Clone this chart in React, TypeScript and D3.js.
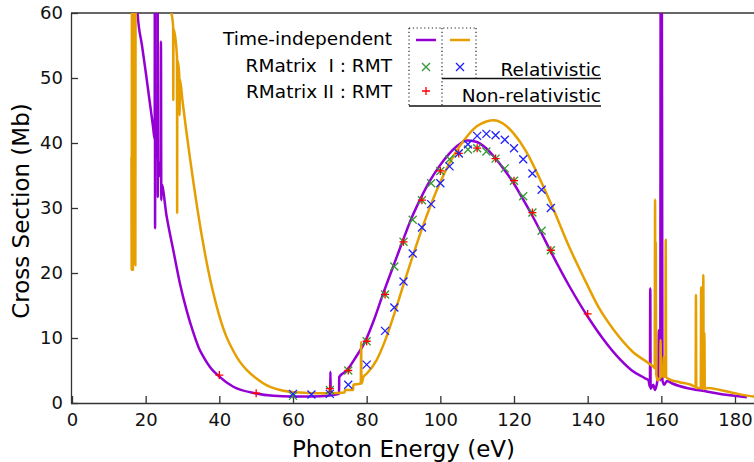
import React, { useRef, useEffect } from 'react';
import * as d3 from 'd3';

type Pt = [number, number];

// time-independent curves, photon energy (eV) vs cross section (Mb)
const purpleCurve: Pt[] = [
  [16.0, 95], [17.0, 72], [17.8, 60], [19.0, 55], [20.0, 51], [22.0, 42.5],
  [22.45, 40.6], [22.5, 80], [22.55, 26.9], [22.6, 40.0], [23.2, 37.6], [23.25, 80],
  [23.3, 31.7], [23.35, 37.2], [24.0, 34.8], [24.15, 55.6], [24.25, 31.2], [24.3, 33.7],
  [25.7, 28.7], [27.5, 23.5], [29.3, 18.4], [31.1, 14.3], [32.9, 10.9], [34.5, 8.4],
  [35.7, 7.1], [37.5, 5.5], [39.7, 4.2], [43.8, 2.5], [49.7, 1.5], [54.7, 1.1],
  [59.6, 1.0], [65, 1.0], [70.1, 1.15], [70.15, 4.8], [70.25, 1.2], [72.5, 1.4],
  [72.55, 4.0], [74.6, 5.0], [77, 7.0], [79.7, 9.6], [82, 12.8], [84.4, 16.7],
  [87.2, 21.0], [89.7, 24.8], [92, 28.2], [94.6, 31.4], [97.2, 34.2], [99.7, 36.4],
  [102.2, 38.2], [104.7, 39.6], [107.2, 40.4], [109.7, 40.2], [112.2, 39.3], [114.7, 37.8],
  [117.2, 36.0], [119.7, 34.0], [122.2, 31.6], [124.8, 29.0], [127.3, 26.3], [129.8, 23.5],
  [135, 18.0], [140, 13.3], [144, 10.0], [148.8, 6.7], [152, 5.0], [155.6, 3.8],
  [156.5, 3.5], [156.9, 2.5], [157.0, 17.6], [157.1, 2.2], [157.8, 2.8], [158.3, 2.0],
  [158.8, 3.0], [159.2, 4.5], [159.3, 11.2], [159.5, 5.0], [159.7, 3.5], [159.85, 80],
  [160.0, 43.5], [160.1, 80], [160.3, 3.5], [160.8, 2.8], [161.5, 3.4], [163, 3.0],
  [166.9, 2.3], [172, 1.8], [176, 1.4], [178.7, 1.2], [183.2, 0.9],
];

const orangeCurve: Pt[] = [
  [16.15, 37.9], [16.2, 20.5], [16.3, 90], [16.5, 90], [16.55, 20.5], [16.6, 90],
  [17.1, 90], [17.2, 21.2], [17.3, 90], [18, 95], [22, 85], [25, 68], [27, 60],
  [27.45, 58], [27.5, 46.6], [27.55, 57.6], [28.5, 53.3], [28.55, 29.2], [28.6, 52.8],
  [29.1, 50.6], [29.2, 44.3], [29.3, 49.8], [30, 46.5], [31, 42], [32, 37.8],
  [33, 33.8], [34, 30], [35, 26.5], [36, 23.3], [37, 20.4], [38, 17.8], [39, 15.5],
  [40, 13.4], [41, 11.6], [42, 10.1], [43.8, 8.0], [45.5, 6.4], [47.4, 5.1], [50, 3.8],
  [52, 3.0], [56.5, 2.0], [62, 1.6], [66, 1.5], [70, 1.5], [74, 1.6], [74.1, 2.0],
  [76.3, 2.0], [76.4, 2.8], [77.5, 2.9], [78.4, 3.0], [78.5, 9.4], [78.6, 3.0],
  [79.1, 4.0], [80, 4.5], [82.7, 6.6], [85, 9.6], [87.5, 13.7], [90, 18.2],
  [92.5, 22.6], [95, 26.8], [97.5, 30.6], [100, 34.0], [102.5, 36.9], [105, 39.3],
  [107.5, 41.2], [110, 42.6], [112.5, 43.3], [114.5, 43.5], [117, 43.0], [120, 41.4],
  [123.4, 38.6], [127, 34.5], [130.7, 29.8], [135, 24.0], [139.7, 18.4], [143, 14.7],
  [147, 11.3], [152, 8.0], [157.8, 5.6], [158.2, 5.4], [158.3, 31.3], [158.4, 5.2],
  [158.5, 24.6], [158.6, 4.5], [159, 3.5], [159.7, 4.0], [159.8, 9.7], [159.9, 4.0],
  [160.5, 4.5], [160.6, 7.1], [160.7, 4.0], [161.1, 4.2], [161.2, 25.1], [161.3, 4.0],
  [162.4, 3.6], [165, 3.2], [168, 2.8], [169.3, 2.5], [169.4, 16.6], [169.5, 2.3],
  [170.7, 2.3], [170.8, 17.8], [170.9, 2.3], [171.3, 2.3], [171.4, 19.7], [171.5, 2.1],
  [171.7, 10.8], [171.8, 2.2], [172.5, 2.3], [176, 2.0], [180, 1.5], [185, 1.0], [186, 0.95],
];

// RMT results
const rmt1Purple: Pt[] = [
  [60, 1.1], [70, 2.0], [75, 5.0], [80, 9.5], [85, 16.7], [87.5, 21.0], [90, 24.8],
  [92.5, 28.2], [95, 31.2], [97.5, 33.8], [100, 35.7], [102.5, 37.5], [105, 38.4],
  [107.5, 39.0], [110, 39.2], [112.5, 38.7], [115, 37.6], [117.5, 36.1], [120, 34.2],
  [122.5, 31.8], [125, 29.3], [127.5, 26.5], [130, 23.5],
];
const rmt1Orange: Pt[] = [
  [60, 1.4], [65, 1.3], [70, 1.4], [75, 2.8], [80, 5.9], [85, 11.1], [87.5, 14.7],
  [90, 18.7], [92.5, 23.0], [95, 27.0], [97.5, 30.6], [100, 33.8], [102.5, 36.4],
  [105, 38.4], [107.5, 39.8], [110, 41.1], [112.5, 41.4], [115, 41.2], [117.5, 40.5],
  [120, 39.2], [122.5, 37.5], [125, 35.3], [127.5, 32.8], [130, 30.0],
];
const rmt2Purple: Pt[] = [
  [40, 4.3], [50, 1.5], [70, 2.2], [75, 5.0], [80, 9.5], [85, 16.7], [90, 24.8],
  [95, 31.2], [100, 35.7], [105, 38.4], [110, 39.2], [115, 37.6], [120, 34.2],
  [125, 29.3], [130, 23.5], [140, 13.7],
];

const xTicks = [0, 20, 40, 60, 80, 100, 120, 140, 160, 180];
const yTicks = [0, 10, 20, 30, 40, 50, 60];

const PURPLE = '#9400d3';
const ORANGE = '#e69f00';
const GREEN = '#339933';
const BLUE = '#2020ff';
const RED = '#ff0000';
const FONT = '"DejaVu Sans", sans-serif';

const W = 754;
const H = 462;

const Chart: React.FC = () => {
  const ref = useRef<SVGSVGElement | null>(null);

  useEffect(() => {
    if (!ref.current) return;
    const svg = d3.select(ref.current);
    svg.selectAll('*').remove();

    const x = d3.scaleLinear().domain([0, 180]).range([72, 735]);
    const y = d3.scaleLinear().domain([0, 60]).range([403, 13]);

    svg.append('defs').append('clipPath').attr('id', 'plot-clip')
      .append('rect').attr('x', 71).attr('y', 13).attr('width', W - 71).attr('height', 390);

    // axes, ticks point inwards
    const xAxis = svg.append('g')
      .attr('transform', `translate(0,${y(0)})`)
      .call(d3.axisBottom(x).tickValues(xTicks).tickSizeInner(-7).tickSizeOuter(0).tickPadding(10));
    const yAxis = svg.append('g')
      .attr('transform', `translate(${x(0) - 1},0)`)
      .call(d3.axisLeft(y).tickValues(yTicks).tickSizeInner(-7).tickSizeOuter(0).tickPadding(8));

    [xAxis, yAxis].forEach(g => {
      g.select('.domain').attr('stroke', '#333').attr('stroke-width', 1.3);
      g.selectAll('.tick line').attr('stroke', '#333').attr('stroke-width', 1.3);
      g.selectAll('.tick text').attr('fill', '#111').style('font-family', FONT).style('font-size', '18px');
    });
    xAxis.select('.domain').attr('d', `M${x(0) - 1},0.5H${W}`);

    // top border
    svg.append('line')
      .attr('x1', x(0) - 1).attr('x2', W).attr('y1', y(60)).attr('y2', y(60))
      .attr('stroke', '#333').attr('stroke-width', 1.3);

    svg.append('text')
      .attr('x', (x(0) + x(180)) / 2).attr('y', 457)
      .attr('text-anchor', 'middle')
      .style('font-family', FONT).style('font-size', '23px')
      .text('Photon Energy (eV)');
    svg.append('text')
      .attr('transform', `translate(29,${(y(0) + y(60)) / 2 + 3}) rotate(-90)`)
      .attr('text-anchor', 'middle')
      .style('font-family', FONT).style('font-size', '23px')
      .text('Cross Section (Mb)');

    const plot = svg.append('g').attr('clip-path', 'url(#plot-clip)');
    const line = d3.line<Pt>()
      .x(d => x(d[0]))
      .y(d => y(d[1]))
      .curve(d3.curveMonotoneX);

    plot.append('path').datum(purpleCurve)
      .attr('fill', 'none').attr('stroke', PURPLE).attr('stroke-width', 2.5)
      .attr('stroke-linejoin', 'round').attr('d', line);
    plot.append('path').datum(orangeCurve)
      .attr('fill', 'none').attr('stroke', ORANGE).attr('stroke-width', 2.5)
      .attr('stroke-linejoin', 'round').attr('d', line);

    const s = 4;
    const cross = (g: d3.Selection<SVGGElement, unknown, null, undefined>, cx: number, cy: number, color: string) => {
      g.append('path')
        .attr('d', `M${cx - s},${cy - s}L${cx + s},${cy + s}M${cx - s},${cy + s}L${cx + s},${cy - s}`)
        .attr('stroke', color).attr('stroke-width', 1.3).attr('fill', 'none');
    };
    const plus = (g: d3.Selection<SVGGElement, unknown, null, undefined>, cx: number, cy: number, color: string) => {
      g.append('path')
        .attr('d', `M${cx - s},${cy}L${cx + s},${cy}M${cx},${cy - s}L${cx},${cy + s}`)
        .attr('stroke', color).attr('stroke-width', 1.3).attr('fill', 'none');
    };

    const marks = plot.append('g');
    rmt1Purple.forEach(d => cross(marks, x(d[0]), y(d[1]), GREEN));
    rmt2Purple.forEach(d => plus(marks, x(d[0]), y(d[1]), RED));
    rmt1Orange.forEach(d => cross(marks, x(d[0]), y(d[1]), BLUE));

    // legend
    const leg = svg.append('g').style('font-family', FONT).style('font-size', '18.5px');
    const labels: [string, number][] = [
      ['Time-independent', 45], ['RMatrix  I : RMT', 72], ['RMatrix II : RMT', 98],
    ];
    labels.forEach(([t, by]) => {
      leg.append('text').attr('x', 392).attr('y', by).attr('text-anchor', 'end')
        .attr('xml:space', 'preserve').style('white-space', 'pre').text(t);
    });
    leg.append('line').attr('x1', 416).attr('x2', 436).attr('y1', 40).attr('y2', 40)
      .attr('stroke', PURPLE).attr('stroke-width', 2.5);
    leg.append('line').attr('x1', 450).attr('x2', 470).attr('y1', 40).attr('y2', 40)
      .attr('stroke', ORANGE).attr('stroke-width', 2.5);
    cross(leg, 426, 67, GREEN);
    cross(leg, 460, 67, BLUE);
    plus(leg, 426, 91, RED);

    const dotted = (x1: number, y1: number, x2: number, y2: number) => {
      leg.append('line').attr('x1', x1).attr('y1', y1).attr('x2', x2).attr('y2', y2)
        .attr('stroke', '#222').attr('stroke-width', 1.2).attr('stroke-dasharray', '1.2,2.6');
    };
    dotted(409, 28, 476, 28);
    dotted(409, 28, 409, 106);
    dotted(442, 28, 442, 106);
    dotted(476, 28, 476, 78);

    leg.append('line').attr('x1', 442).attr('x2', 601).attr('y1', 78.5).attr('y2', 78.5)
      .attr('stroke', '#111').attr('stroke-width', 1.6);
    leg.append('line').attr('x1', 409).attr('x2', 601).attr('y1', 106).attr('y2', 106)
      .attr('stroke', '#111').attr('stroke-width', 1.6);
    leg.append('text').attr('x', 601).attr('y', 76).attr('text-anchor', 'end').text('Relativistic');
    leg.append('text').attr('x', 601).attr('y', 102).attr('text-anchor', 'end').text('Non-relativistic');
  }, []);

  return <svg ref={ref} width={W} height={H} style={{ display: 'block', background: '#fff' }} />;
};

export default function App() {
  return (
    <div style={{ position: 'absolute', left: 0, top: 0 }}>
      <Chart />
    </div>
  );
}
